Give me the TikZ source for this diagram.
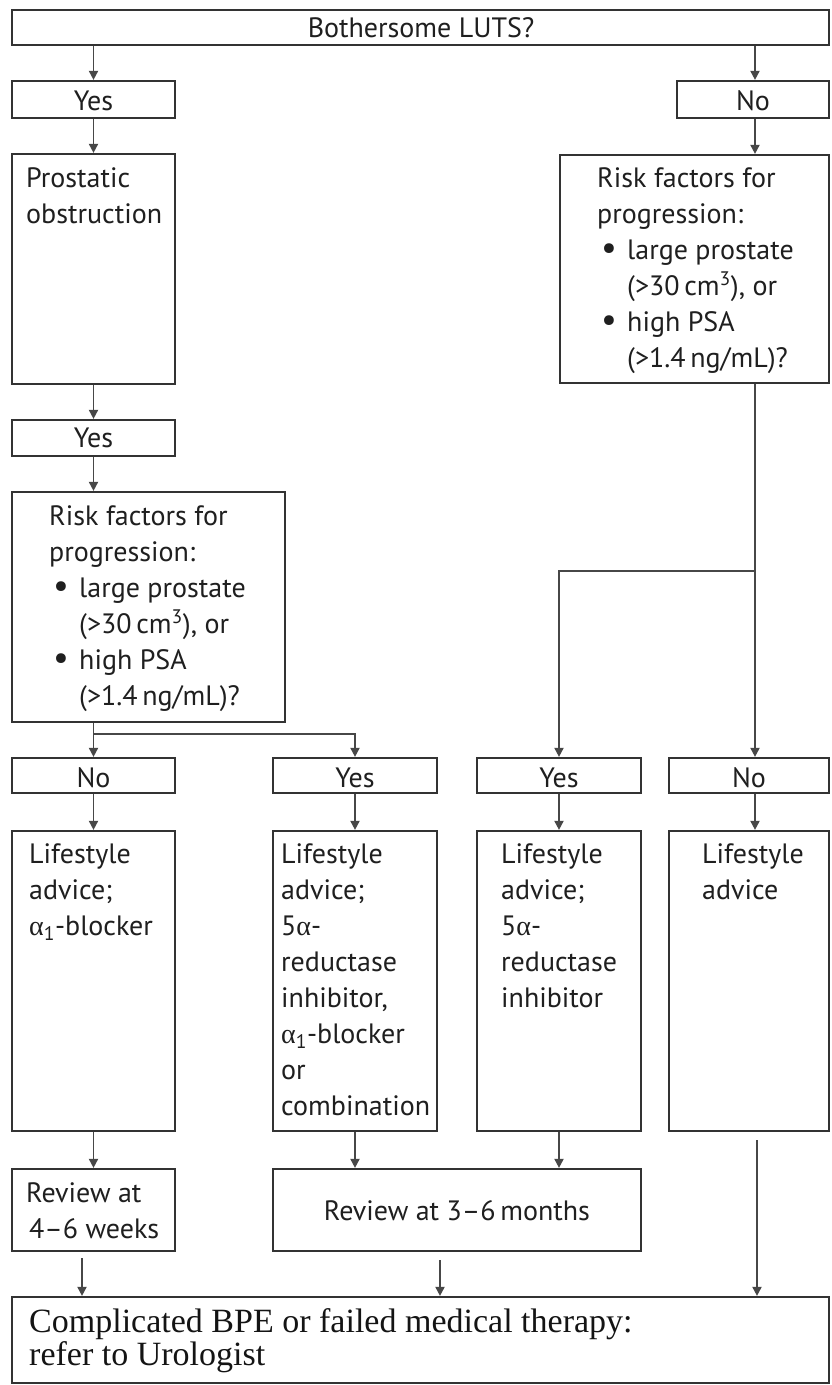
\documentclass[tikz,border=0pt]{standalone}
\usepackage{fontspec}
\setmainfont{PT Sans}
\newfontfamily\serifb{Liberation Serif}
\usetikzlibrary{arrows.meta,fit}
\newcommand\ml[1]{\begin{tabular}[t]{@{}l@{}}#1\end{tabular}}
\newcommand\bul{\makebox[30pt][l]{\hspace{4pt}\scalebox{1.25}{\textbullet}}}
\newcommand\ind{\hspace*{30pt}}
\newcommand\alp{{\serifb α}}
\tikzset{
  box/.style={draw=black!80, line width=2.2pt, inner sep=0pt, fill=white},
  arr/.style={draw=black!72, line width=1.8pt, -{Triangle[width=9pt,length=9pt]}},
  ln/.style={draw=black!72, line width=1.8pt},
  txt/.style={inner sep=0pt, text=black!88, font=\fontsize{28}{36}\selectfont},
  stxt/.style={inner sep=0pt, text=black!92, font=\serifb\fontsize{34}{33}\selectfont},
}
\begin{document}
\begin{tikzpicture}[x=1pt,y=-1pt]
\useasboundingbox (0,0) rectangle (831,1385);
% boxes
\node[box, fit={(12,10) (829,45)}] (top) {};
\node[box, fit={(12,81) (175,118)}] (yes1) {};
\node[box, fit={(677,81) (829,118)}] (no1) {};
\node[box, fit={(12,154) (175,384)}] (pro) {};
\node[box, fit={(12,420) (175,456)}] (yes2) {};
\node[box, fit={(12,492) (285,722)}] (riskL) {};
\node[box, fit={(560,155) (829,383)}] (riskR) {};
\node[box, fit={(12,758) (175,793)}] (rno1) {};
\node[box, fit={(273,758) (437,793)}] (ryes1) {};
\node[box, fit={(477,758) (641,793)}] (ryes2) {};
\node[box, fit={(669,758) (829,793)}] (rno2) {};
\node[box, fit={(12,831) (175,1131)}] (l1) {};
\node[box, fit={(273,831) (437,1131)}] (l2) {};
\node[box, fit={(477,831) (641,1131)}] (l3) {};
\node[box, fit={(669,831) (829,1131)}] (l4) {};
\node[box, fit={(12,1169) (175,1251)}] (rev1) {};
\node[box, fit={(273,1169) (641,1251)}] (rev2) {};
\node[box, fit={(12,1297) (829,1383)}] (final) {};
% texts
\node[txt, anchor=base] (ttop) at (421,37) {Bothersome LUTS?};
\node[txt, anchor=base] (tyes1) at (93.5,110) {Yes};
\node[txt, anchor=base] (tno1) at (753,110) {No};
\node[txt, anchor=base west] (tpro) at (26,187) {\ml{Prostatic\\obstruction}};
\node[txt, anchor=base] (tyes2) at (93.5,447) {Yes};
\node[txt, anchor=base west] (triskL) at (49,525) {\ml{Risk factors for\\progression:\\\bul large prostate\\\ind(>30\,cm\textsuperscript{3}), or\\\bul high PSA\\\ind(>1.4\,ng/mL)?}};
\node[txt, anchor=base west] (triskR) at (597,187) {\ml{Risk factors for\\progression:\\\bul large prostate\\\ind(>30\,cm\textsuperscript{3}), or\\\bul high PSA\\\ind(>1.4\,ng/mL)?}};
\node[txt, anchor=base] (trno1) at (93.5,787) {No};
\node[txt, anchor=base] (tryes1) at (355,787) {Yes};
\node[txt, anchor=base] (tryes2) at (559,787) {Yes};
\node[txt, anchor=base] (trno2) at (749,787) {No};
\node[txt, anchor=base west] (tl1) at (29,863) {\ml{Lifestyle\\advice;\\\alp\textsubscript{1}-blocker}};
\node[txt, anchor=base west] (tl2) at (281,863) {\ml{Lifestyle\\advice;\\5\alp-\\reductase\\inhibitor,\\\alp\textsubscript{1}-blocker\\or\\combination}};
\node[txt, anchor=base west] (tl3) at (501,863) {\ml{Lifestyle\\advice;\\5\alp-\\reductase\\inhibitor}};
\node[txt, anchor=base west] (tl4) at (702,863) {\ml{Lifestyle\\advice}};
\node[txt, anchor=base west] (trev1) at (26,1202) {\ml{Review at\\\hspace*{3pt}4–6 weeks}};
\node[txt, anchor=base] (trev2) at (457,1220) {Review at 3–6\,months};
\node[stxt, anchor=base west] (tfinal) at (29,1332) {\ml{Complicated BPE or failed medical therapy:\\refer to Urologist}};
% connectors
\coordinate (cR) at (755,0);
\draw[arr] (top.south -| yes1.north) -- (yes1.north);
\draw[arr] (top.south -| cR) -- (no1.north -| cR);
\draw[arr] (yes1.south) -- (pro.north);
\draw[arr] (pro.south) -- (yes2.north);
\draw[arr] (yes2.south) -- (riskL.north -| yes2.south);
\draw[arr] (no1.south -| cR) -- (riskR.north -| cR);
\draw[arr] (riskL.south -| rno1.north) -- (rno1.north);
\coordinate (bL) at (93.5,734);
\draw[arr] (bL) -| (ryes1.north);
\draw[arr] (riskR.south -| cR) -- (rno2.north -| cR);
\coordinate (bR) at (755,571);
\draw[arr] (bR) -| (ryes2.north);
\draw[arr] (rno1.south) -- (l1.north);
\draw[arr] (ryes1.south) -- (l2.north);
\draw[arr] (ryes2.south) -- (l3.north);
\draw[arr] (rno2.south -| cR) -- (l4.north -| cR);
\draw[arr] (l1.south) -- (rev1.north);
\draw[arr] (l2.south) -- (l2.south |- rev2.north);
\draw[arr] (l3.south) -- (l3.south |- rev2.north);
\coordinate (a1) at (82,0);
\coordinate (a2) at (440,0);
\coordinate (a3) at (757,0);
\draw[arr, shorten <=6pt] (rev1.south -| a1) -- (final.north -| a1);
\draw[arr, shorten <=8pt] (rev2.south -| a2) -- (final.north -| a2);
\draw[arr, shorten <=8pt] (l4.south -| a3) -- (final.north -| a3);
\end{tikzpicture}
\end{document}
